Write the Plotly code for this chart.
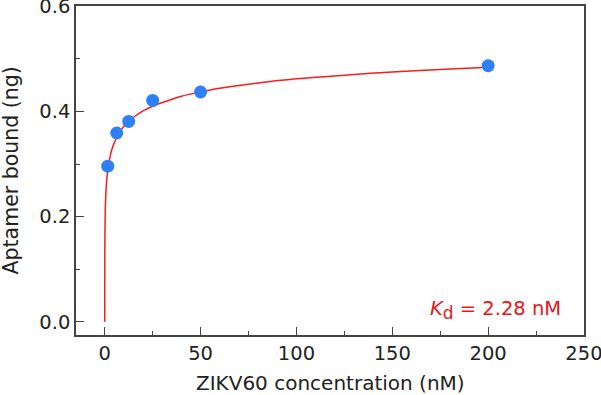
import plotly.graph_objects as go

# measured data points
conc_nM = [1.5625, 6.25, 12.5, 25, 50, 200]
bound_ng = [0.296, 0.359, 0.381, 0.421, 0.437, 0.487]

# fitted curve (values read/estimated along the red line)
fit_x = [0, 0.002, 0.02, 0.1, 0.25, 0.5, 0.75, 1, 1.5, 2, 3, 4, 6, 8, 10, 12.5, 15,
         20, 25, 30, 40, 50, 60, 80, 100, 125, 150, 175, 200]
fit_y = [0, 0.066, 0.119, 0.172, 0.208, 0.237, 0.255, 0.268, 0.286, 0.299, 0.318,
         0.331, 0.349, 0.362, 0.372, 0.381, 0.389, 0.401, 0.410, 0.417, 0.429,
         0.437, 0.444, 0.454, 0.462, 0.469, 0.475, 0.480, 0.484]

x_ticks = [0, 50, 100, 150, 200, 250]
y_ticks = [0.0, 0.2, 0.4, 0.6]
y_tick_text = ["0.0", "0.2", "0.4", "0.6"]

x_title = "ZIKV60 concentration (nM)"
y_title = "Aptamer bound (ng)"
kd_text = "<i>K</i><sub><span style='font-size:17px'>d</span></sub> = 2.28 nM"

FONT = "DejaVu Sans"
FS = 19.5
TXT = "#222222"

fig = go.Figure()
fig.add_trace(go.Scatter(x=fit_x, y=fit_y, mode="lines",
                         line=dict(color="#ff1a1a", width=1.5, shape="spline"),
                         showlegend=False, hoverinfo="skip"))
fig.add_trace(go.Scatter(x=conc_nM, y=bound_ng, mode="markers",
                         marker=dict(color="#2f80f5", size=13),
                         showlegend=False))

axis_common = dict(showline=True, mirror=True, linecolor="#444444", linewidth=1.5,
                   ticks="inside", ticklen=8, tickwidth=1.2, tickcolor="#444444",
                   showgrid=False, zeroline=False, automargin=False,
                   ticklabeloverflow="allow",
                   tickfont=dict(family=FONT, size=FS, color=TXT))

fig.update_xaxes(range=[-15, 250.01], tickvals=x_ticks,
                 minor=dict(ticks="inside", ticklen=4, dtick=25, tick0=0,
                            tickcolor="#444444", tickwidth=1.2),
                 **axis_common)
fig.update_yaxes(range=[-0.025, 0.6005], tickvals=y_ticks, ticktext=y_tick_text,
                 minor=dict(ticks="inside", ticklen=4, dtick=0.1, tick0=0,
                            tickcolor="#444444", tickwidth=1.2),
                 **axis_common)

fig.add_annotation(x=0.5, y=-0.145, xref="paper", yref="paper", text=x_title,
                   showarrow=False, xanchor="center", yanchor="middle",
                   font=dict(family=FONT, size=20, color=TXT))
fig.add_annotation(x=-0.128, y=0.5, xref="paper", yref="paper", text=y_title,
                   showarrow=False, xanchor="center", yanchor="middle", textangle=-90,
                   font=dict(family=FONT, size=20.5, color=TXT))

fig.add_annotation(x=239, y=0.022, xref="x", yref="y", text=kd_text,
                   showarrow=False, xanchor="right", yanchor="middle",
                   font=dict(family=FONT, size=FS, color="#e8141c"))

fig.update_layout(width=601, height=395,
                  margin=dict(l=76, r=17, t=6, b=60),
                  plot_bgcolor="white", paper_bgcolor="white")

fig.write_html("out.html", config={"displayModeBar": False},
               post_script="document.body.style.margin='0';")
